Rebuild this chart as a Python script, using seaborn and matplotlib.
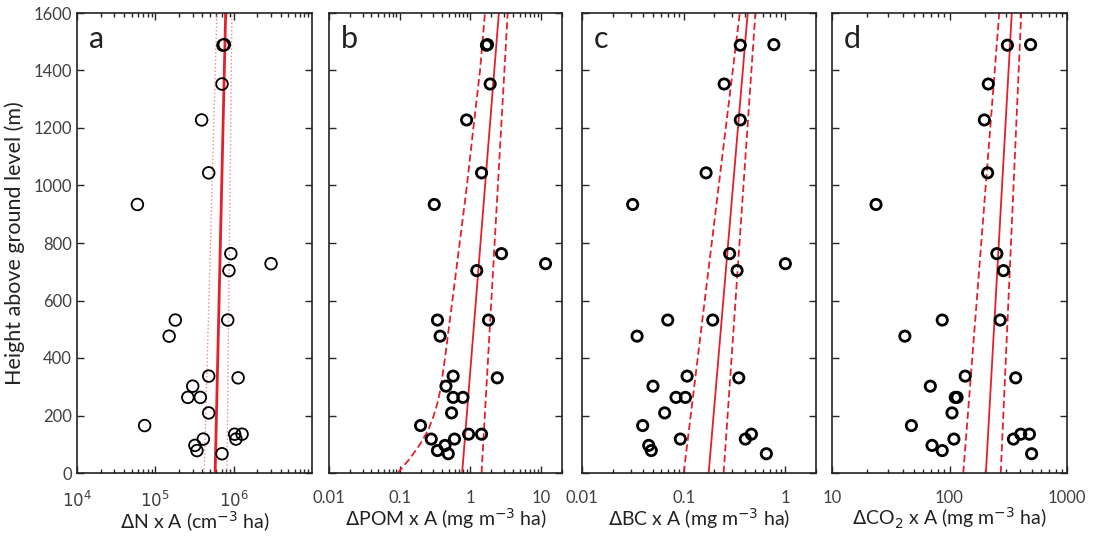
import numpy as np
import pandas as pd
import matplotlib
matplotlib.use('Agg')
import matplotlib.pyplot as plt
from matplotlib.ticker import NullLocator, LogLocator
import seaborn as sns

# heights above ground (m), shared by all four panels
heights = [1490, 1488, 1353, 1228, 1044, 934, 763, 728, 704, 532, 532, 476, 337,
           331, 302, 263, 263, 209, 165, 135, 135, 118, 118, 96, 78, 67]

dN = [7.6e5, 7.3e5, 7.1e5, 3.9e5, 4.8e5, 5.9e4, 9.2e5, 3.0e6, 8.7e5, 1.8e5, 8.4e5,
      1.5e5, 4.8e5, 1.14e6, 3.0e5, 2.6e5, 3.75e5, 4.8e5, 7.3e4, 1.03e6, 1.28e6,
      1.07e6, 4.1e5, 3.2e5, 3.4e5, 7.1e5]
dPOM = [1.76, 1.70, 1.92, 0.89, 1.45, 0.31, 2.78, 11.7, 1.24, 0.344, 1.82, 0.375,
        0.574, 2.42, 0.454, 0.574, 0.79, 0.545, 0.198, 0.95, 1.45, 0.281, 0.6,
        0.44, 0.344, 0.49]
dBC = [0.77, 0.36, 0.25, 0.36, 0.166, 0.0315, 0.283, 1.0, 0.335, 0.0697, 0.193,
       0.0348, 0.108, 0.348, 0.0499, 0.084, 0.104, 0.065, 0.0395, 0.463, np.nan,
       0.0927, 0.404, 0.0453, 0.048, 0.65]
dCO2 = [490, 311, 214, 198, 211, 23.7, 253, np.nan, 288, 86.7, 270, 41.7, 136, 366,
        68.7, 112, 116, 105, 47.4, 404, 479, 109, 350, 71, 86.7, 500]

# fitted lines (x at the given heights)
fit_h = [0, 1600]
a_fit, a_lo, a_hi = [5.8e5, 7.9e5], [4.2e5, 6.1e5], [8.2e5, 9.5e5]
b_fit, b_hi = [0.77, 2.55], [1.45, 3.4]
b_lo_h = [0, 50, 100, 150, 200, 250, 300, 400, 600, 800, 1000, 1200, 1400, 1600]
b_lo = [0.094, 0.14, 0.195, 0.255, 0.305, 0.35, 0.385, 0.44, 0.56, 0.71, 0.90,
        1.11, 1.38, 1.62]
c_fit, c_lo, c_hi = [0.176, 0.426], [0.10, 0.356], [0.247, 0.507]
d_fit, d_lo, d_hi = [204, 339], [131, 265], [273, 408]

letters = ['a', 'b', 'c', 'd']
xlabels = [r'$\Delta$N x A (cm$^{-3}$ ha)', r'$\Delta$POM x A (mg m$^{-3}$ ha)',
           r'$\Delta$BC x A (mg m$^{-3}$ ha)', r'$\Delta$CO$_2$ x A (mg m$^{-3}$ ha)']
xlims = [(1e4, 1e7), (0.01, 20), (0.01, 2), (10, 1000)]
xticks = [[1e4, 1e5, 1e6], [0.01, 0.1, 1, 10], [0.01, 0.1, 1], [10, 100, 1000]]
xticklabels = [[r'$10^4$', r'$10^5$', r'$10^6$'], ['0.01', '0.1', '1', '10'],
               ['0.01', '0.1', '1'], ['10', '100', '1000']]

sns.set_style('ticks')
plt.rcParams['font.family'] = ['Lato', 'DejaVu Sans']

red = '#e3202b'
fig = plt.figure(figsize=(10.94, 5.45), dpi=100)
lefts = [77, 329, 582, 832]
widths = [235, 233, 234, 235]
axes = [fig.add_axes([l / 1094, 72 / 545, w / 1094, 460 / 545]) for l, w in zip(lefts, widths)]

values = [dN, dPOM, dBC, dCO2]
for i, ax in enumerate(axes):
    df = pd.DataFrame({'x': values[i], 'h': heights}).dropna()
    ax.set_xscale('log')
    if i == 0:
        sns.lineplot(x=a_lo, y=fit_h, sort=False, estimator=None, ax=ax, color='#f08a8a', lw=1.0, linestyle=':')
        sns.lineplot(x=a_hi, y=fit_h, sort=False, estimator=None, ax=ax, color='#f08a8a', lw=1.0, linestyle=':')
        sns.lineplot(x=a_fit, y=fit_h, sort=False, estimator=None, ax=ax, color=red, lw=2.0)
    else:
        fits = {1: (b_fit, b_lo, b_lo_h, b_hi), 2: (c_fit, c_lo, fit_h, c_hi), 3: (d_fit, d_lo, fit_h, d_hi)}
        f, lo, lo_h, hi = fits[i]
        sns.lineplot(x=f, y=fit_h, sort=False, estimator=None, ax=ax, color=red, lw=1.3)
        sns.lineplot(x=lo, y=lo_h, sort=False, estimator=None, ax=ax, color=red, lw=1.3)
        ax.lines[-1].set_dashes([4, 2])
        sns.lineplot(x=hi, y=fit_h, sort=False, estimator=None, ax=ax, color=red, lw=1.3)
        ax.lines[-1].set_dashes([4, 2])
    sns.scatterplot(data=df, x='x', y='h', ax=ax, marker='o', s=70 if i == 0 else 55,
                    edgecolor='black', linewidth=1.3 if i == 0 else 2.0, zorder=5)
    ax.collections[-1].set_facecolor('none')

    ax.set_xlim(*xlims[i])
    ax.set_ylim(0, 1600)
    ax.set_yticks(range(0, 1601, 200))
    ax.yaxis.set_minor_locator(NullLocator())
    ax.xaxis.set_minor_locator(LogLocator(base=10, subs=np.arange(2, 10), numticks=20))
    ax.set_xticks(xticks[i])
    ax.set_xticklabels(xticklabels[i])
    ax.tick_params(which='both', direction='in', top=True, right=True,
                   labelsize=12, labelcolor='#404040', width=1.0)
    ax.tick_params(which='major', length=5)
    ax.tick_params(which='minor', length=3)
    ax.tick_params(axis='x', pad=12)
    if i > 0:
        ax.tick_params(labelleft=False)
    for s in ax.spines.values():
        s.set_linewidth(1.2)
        s.set_color('#222222')
    ax.set_xlabel(xlabels[i], fontsize=14, color='#222222', labelpad=0)
    ax.set_ylabel('')
    ax.text(0.05, 0.975, letters[i], transform=ax.transAxes, va='top', ha='left',
            fontsize=22, color='#222222')

axes[0].set_ylabel('Height above ground level (m)', fontsize=15.5, color='#222222', labelpad=6)

fig.savefig('out.png', dpi=100)
